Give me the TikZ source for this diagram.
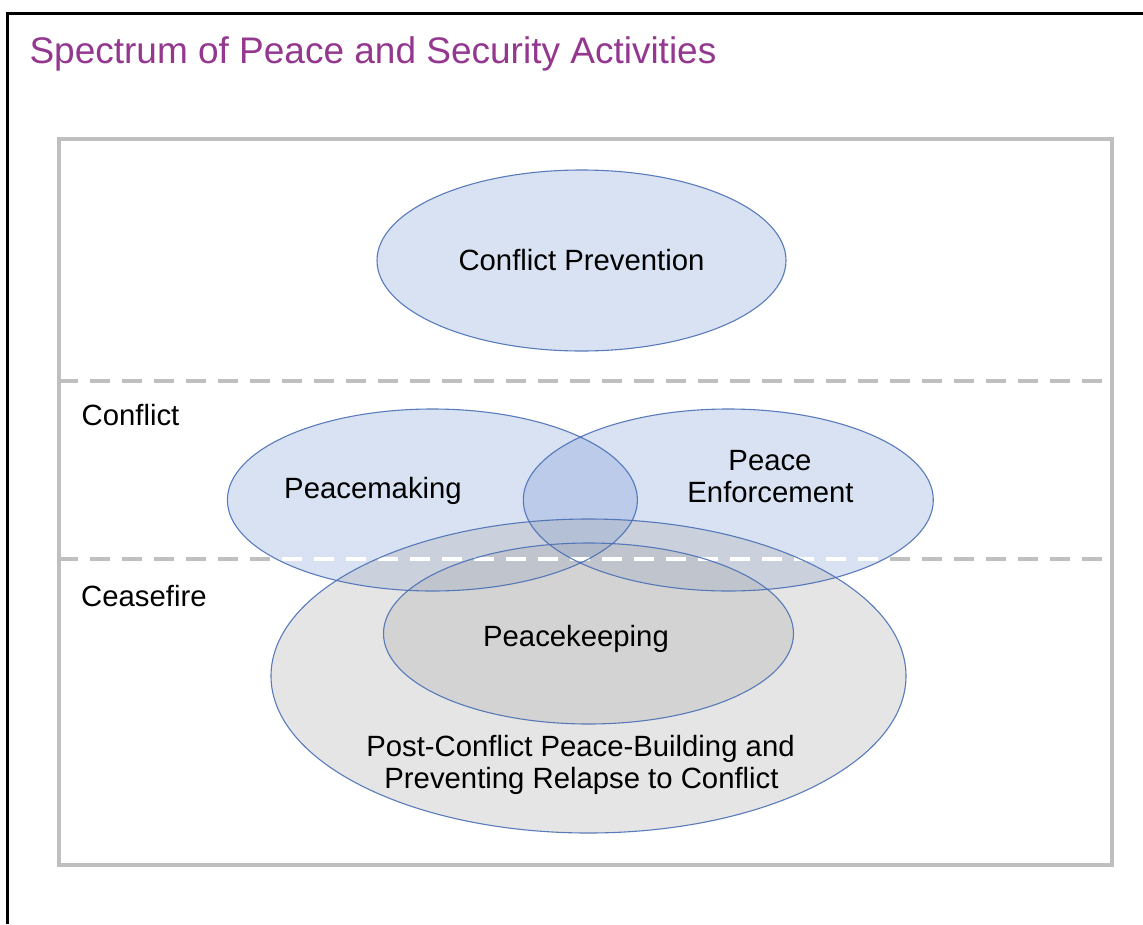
\documentclass[tikz,border=0pt]{standalone}
\usepackage{fontspec}
\setmainfont{Liberation Sans}
\definecolor{ttl}{HTML}{94378F}
\definecolor{edgec}{HTML}{4A6FB5}
\definecolor{blu}{HTML}{4472C4}
\definecolor{gry}{HTML}{A5A5A5}
\definecolor{rulec}{HTML}{BFBFBF}
\begin{document}
\begin{tikzpicture}[x=1pt,y=-1pt,
  lbl/.style={font=\fontsize{29.3}{31.7}\selectfont, inner sep=0pt, anchor=base},
  lblw/.style={lbl, anchor=base west},
  blueell/.style={fill=blu, fill opacity=0.2, draw=none},
  grayell/.style={fill=gry, fill opacity=0.28, draw=none},
  outl/.style={draw=edgec, line width=1.1pt, draw opacity=0.9},
  zone/.style={draw=rulec, line width=4pt},
  zonedash/.style={draw=rulec, line width=4pt, dash pattern=on 20pt off 12pt},
  whitedash/.style={draw=white, line width=4pt, dash pattern=on 20pt off 12pt}]
\useasboundingbox (0,0) rectangle (1143,924);
\fill[white] (0,0) rectangle (1143,924);
% outer frame (left and top)
\draw[black, line width=3pt] (7,924) -- (7,13) -- (1143,13);
% title
\node[lblw, font=\fontsize{37}{40}\selectfont, text=ttl] (title) at (29.3,63.3) {Spectrum of Peace and Security Activities};
% zone box
\draw[zone] (59,139) rectangle (1112,864.5);
\coordinate (d1a) at (58,381);
\coordinate (d1b) at (1110,381);
\coordinate (d2a) at (58,559);
\coordinate (d2b) at (1110,559);
\draw[zonedash] (d1a) -- (d1b);
\draw[zonedash] (d2a) -- (d2b);
% ellipse fills
\path[blueell] (581.5,260.5) ellipse [x radius=204.5, y radius=90.5];
\path[blueell] (432.4,500) ellipse [x radius=205, y radius=91];
\path[blueell] (728.3,500) ellipse [x radius=205, y radius=91];
\path[grayell] (588.5,676) ellipse [x radius=317.5, y radius=157];
\path[grayell] (588.5,633.5) ellipse [x radius=205, y radius=90.5];
% white dashes inside ellipses
\begin{scope}
\clip (432.4,500) ellipse [x radius=205, y radius=91]
      (728.3,500) ellipse [x radius=205, y radius=91]
      (588.5,676) ellipse [x radius=317.5, y radius=157];
\draw[whitedash] (d2a) -- (d2b);
\end{scope}
% outlines
\path[outl] (581.5,260.5) ellipse [x radius=204.5, y radius=90.5];
\path[outl] (432.4,500) ellipse [x radius=205, y radius=91];
\path[outl] (728.3,500) ellipse [x radius=205, y radius=91];
\path[outl] (588.5,676) ellipse [x radius=317.5, y radius=157];
\path[outl] (588.5,633.5) ellipse [x radius=205, y radius=90.5];
% labels
\node[lbl] (cp) at (581.5,270) {Conflict Prevention};
\node[lblw] (lconf) at (81.5,425) {Conflict};
\node[lblw] (lcease) at (81,606.7) {Ceasefire};
\node[lbl] (pm) at (373,498) {Peacemaking};
\node[lbl] (pe1) at (770,470.7) {Peace};
\node[lbl] (pe2) at (770.5,502.7) {Enforcement};
\node[lbl] (pk) at (576,646) {Peacekeeping};
\node[lbl] (pb1) at (580.5,756.7) {Post-Conflict Peace-Building and};
\node[lbl] (pb2) at (581.5,788.3) {Preventing Relapse to Conflict};
\end{tikzpicture}
\end{document}
